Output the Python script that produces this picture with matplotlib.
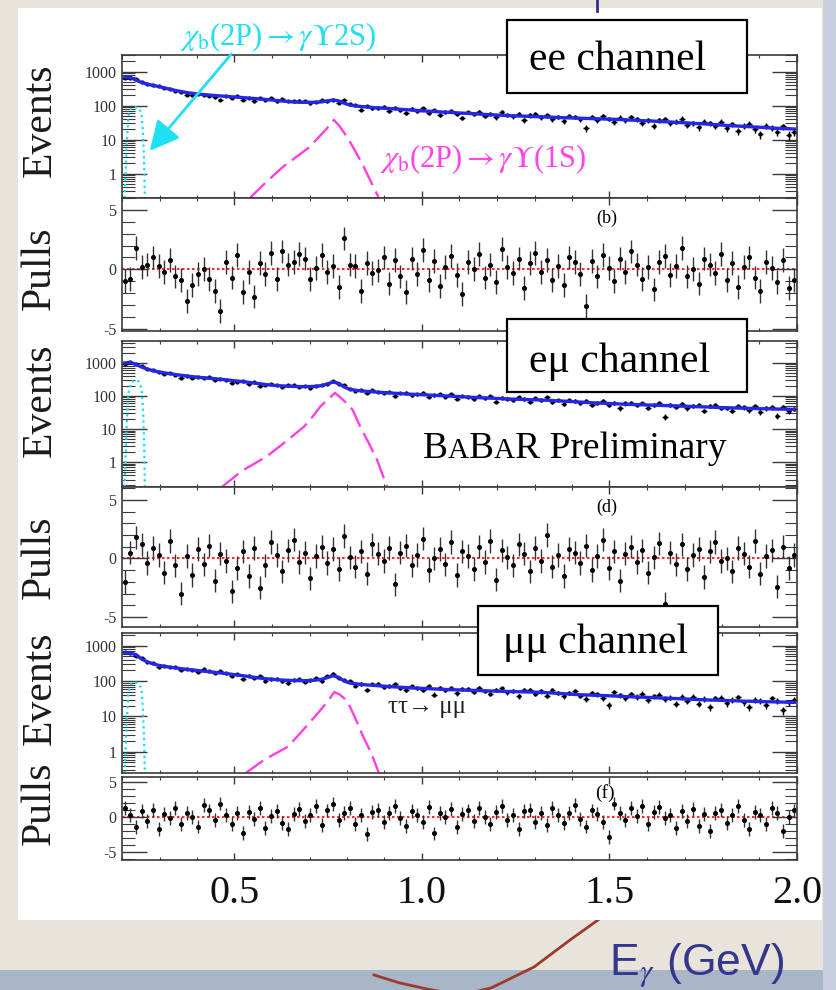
import numpy as np
import matplotlib
matplotlib.use("Agg")
import matplotlib.pyplot as plt
from matplotlib.patches import Rectangle, FancyArrowPatch
from matplotlib.lines import Line2D
from matplotlib.ticker import FixedLocator, FixedFormatter, LogLocator, MultipleLocator, NullFormatter

plt.rcParams['font.family'] = ['Liberation Serif', 'DejaVu Serif']
plt.rcParams['mathtext.fontset'] = 'stix'
plt.rcParams['axes.unicode_minus'] = False

W, H = 837, 990

# ---------------- data ----------------
# fitted background+signal per bin, 120 bins from 0.2 to 2.0 GeV
ee_fit = [690, 680, 560, 480, 430, 395, 365, 335, 305, 280,
          260, 243, 230, 220, 212, 205, 199, 193, 188, 182,
          177, 172, 167, 162, 157, 152, 147, 142, 137, 132,
          128, 126, 125, 125, 126, 129, 137, 147, 138, 118,
          104, 98, 94, 91, 88, 86, 84, 82, 80, 78,
          76, 74, 72, 70, 68.5, 67, 65.5, 64, 63, 61.5,
          60, 59, 58, 56.5, 55, 54, 53, 52, 51, 50,
          49.5, 49, 48, 47.5, 47, 46, 45.5, 45, 44, 43.5,
          43, 42.5, 42, 41.5, 41, 40.5, 40, 39.5, 39, 38,
          37.5, 37, 36, 35.5, 35, 34, 33.5, 33, 32, 31.5,
          31, 30, 29.5, 29, 28, 27.5, 27, 26, 25.5, 25,
          24.5, 24, 23.5, 23, 22.5, 22, 21.5, 21, 21, 20.5]

emu_fit = [980, 1030, 880, 740, 640, 575, 530, 495, 465, 440,
           418, 398, 380, 365, 352, 340, 330, 318, 305, 292,
           280, 268, 255, 243, 232, 220, 212, 205, 200, 196,
           193, 191, 190, 191, 195, 205, 228, 262, 240, 185,
           158, 148, 142, 137, 133, 129, 126, 123, 120, 117,
           114, 112, 110, 108, 106, 104, 102, 100, 98, 96,
           94, 92, 90, 88.5, 87, 85.5, 84, 82.5, 81, 80,
           79, 78, 77, 76, 75, 74, 72.5, 71, 69.5, 68,
           66.5, 65, 63.5, 62, 61, 60, 59, 58, 57, 56,
           55, 54.5, 54, 53, 52.5, 52, 51, 50.5, 50, 49,
           48.5, 48, 47, 46.5, 46, 45, 44.5, 44, 43.5, 43,
           42.5, 42, 41.5, 41, 41, 40.5, 40, 40, 39.5, 39]

mumu_fit = [640, 620, 560, 420, 350, 310, 280, 262, 248, 236,
            225, 215, 207, 199, 191, 184, 177, 170, 163, 156,
            149, 142, 135, 128, 122, 117, 113, 110, 107, 105,
            104, 103, 103, 104, 107, 113, 125, 142, 128, 100,
            88, 84, 81, 78, 76, 74, 72, 70, 68.5, 67,
            65.5, 64, 63, 62, 61, 60, 59, 58, 57, 56.5,
            56, 55, 54.5, 54, 53, 52.5, 52, 51.5, 51, 50.5,
            50, 49.5, 49, 48.5, 48, 47, 46, 45, 44, 43,
            42, 41, 40.5, 40, 39.5, 39, 38.5, 38, 37, 36.5,
            36, 35.5, 35, 34.5, 34, 33.5, 33, 32.5, 32, 31.5,
            31, 30.5, 30, 29.5, 29, 29, 28.5, 28, 28, 27.5,
            27, 27, 26.5, 26.5, 26, 26, 25.5, 25.5, 25, 25]

# pulls per bin
ee_pulls = [-1.0, -0.8, 1.8, 0.2, 0.4, 1.0, 0.3, -0.2, 0.8, -0.6,
            -0.9, -2.7, -1.3, -0.4, 0.0, -0.8, -1.8, -3.5, 0.6, -0.7,
            1.2, -1.9, -0.2, -2.3, 0.5, -0.4, 1.4, -0.8, 1.5, 0.4,
            0.6, 1.3, 0.9, -0.8, 0.1, 1.2, -0.2, 0.3, -1.5, 2.6,
            0.4, 0.3, -1.8, 0.5, -0.3, -0.1, 1.0, -1.2, 0.8, -0.6,
            -1.9, 0.9, -0.4, 1.6, -0.9, 0.7, -1.4, 0.2, 1.1, -0.5,
            -2.1, 0.6, 0.0, 1.3, -0.7, 0.4, -1.1, 1.7, 0.2, -0.3,
            0.9, -1.6, 0.5, 1.4, -0.2, 0.8, -0.9, 0.3, -1.3, 1.0,
            0.6, -0.4, -3.1, 0.7, -0.6, 1.2, 0.1, -1.0, 0.9, -0.2,
            1.5, 0.4, -0.8, 0.2, -1.7, 0.6, 1.1, -0.5, 0.3, 1.8,
            -0.6, 0.0, -1.2, 0.9, 0.4, -0.3, 1.3, -0.9, 0.5, -1.5,
            0.2, 1.0, -0.7, -1.8, 0.6, 0.1, -1.1, 0.8, -1.6, -0.9]

emu_pulls = [-2.0, 0.5, 1.8, 1.2, -0.4, 0.9, 0.3, -1.2, 1.5, -0.6,
             -3.0, 0.2, -1.4, 0.8, -0.5, 1.1, -1.9, 0.4, -0.2, -2.8,
             -0.8, 0.6, -1.5, 0.9, -2.5, -0.6, 1.4, 0.3, -1.1, 0.7,
             1.6, -0.3, 0.5, -1.7, 0.2, 1.0, -0.4, 0.8, -0.9, 1.9,
             0.1, -0.7, 0.6, -1.3, 1.2, 0.4, -0.2, 0.9, -2.2, 0.5,
             1.1, -0.6, 0.3, 1.7, -1.0, 0.0, 0.8, -0.5, 1.4, -1.4,
             0.6, 0.2, -0.9, 1.0, -0.3, 1.5, -1.8, 0.7, 0.1, -0.6,
             1.2, 0.4, -1.1, 0.9, -0.2, 2.0, -0.7, 0.3, -1.5, 0.8,
             0.5, -0.4, 1.1, -1.0, 0.2, 1.6, -0.8, 0.6, -1.9, 0.4,
             1.0, -0.3, 0.7, -1.2, 0.1, 1.3, -3.9, 0.5, -0.5, 1.2,
             -0.9, 0.3, 0.8, -1.6, 0.6, 1.4, -0.2, 0.0, -1.1, 0.9,
             0.4, -0.7, 1.5, -1.3, 0.2, 0.7, -2.4, 1.0, -0.8, 0.3]

mumu_pulls = [1.2, 0.3, -1.5, 0.8, -0.6, 1.0, -1.8, 0.4, -0.2, 1.3,
              -1.0, 0.6, 0.0, -1.4, 1.7, 0.9, -0.5, 1.9, 0.2, -1.1,
              0.5, -2.3, 0.7, -0.3, 1.2, -1.6, 0.1, 0.8, -0.9, -1.7,
              0.4, 1.1, -0.6, 0.3, 1.5, -1.2, 0.9, 1.8, -0.4, 0.6,
              1.3, -1.0, 0.2, -2.5, 0.7, 1.0, -0.7, 0.5, 1.6, -0.2,
              -1.3, 0.8, 0.3, -0.8, 1.4, -2.4, 0.6, -0.1, 1.1, -1.5,
              0.4, 0.9, -0.6, 1.2, 0.0, -1.1, 0.7, 1.5, -0.4, 0.3,
              -1.8, 0.8, 1.0, -0.7, 0.5, -1.2, 1.3, 0.2, -0.9, 0.6,
              1.7, -0.3, -1.4, 0.9, 0.4, -0.8, -2.9, 1.9, 0.5, -0.5,
              1.2, 0.1, 1.6, -1.0, 0.7, 1.4, -0.2, 0.3, -1.6, 0.8,
              -0.6, 1.1, -1.3, 0.4, -2.0, 0.6, 1.0, -0.9, 0.2, 1.5,
              -0.4, -1.7, 0.7, 0.3, -1.1, 1.3, 0.5, -2.1, 0.0, 0.9]

# chi_b(2P) -> gamma Upsilon(1S) signal shapes (magenta)
ee_sig_x = [0.541, 0.58, 0.63, 0.67, 0.70, 0.73, 0.746, 0.765, 0.78, 0.80, 0.82, 0.84, 0.86, 0.885]
ee_sig_y = [0.19, 0.5, 1.6, 3.4, 6, 13.6, 21, 38, 25, 12, 5, 2, 0.7, 0.19]
emu_sig_x = [0.466, 0.52, 0.586, 0.64, 0.686, 0.71, 0.729, 0.75, 0.768, 0.79, 0.815, 0.835, 0.857, 0.88, 0.907]
emu_sig_y = [0.18, 0.55, 1.5, 4.5, 12, 25, 48, 80, 123, 75, 38, 12, 4, 1.2, 0.18]
mumu_sig_x = [0.53, 0.58, 0.643, 0.69, 0.729, 0.75, 0.766, 0.78, 0.80, 0.82, 0.843, 0.865, 0.885]
mumu_sig_y = [0.25, 0.6, 1.4, 5, 15, 28, 49, 42, 28, 10, 2.7, 0.9, 0.25]

# chi_b(2P) -> gamma Upsilon(2S) signal shapes (cyan)
cy_x = [0.207, 0.212, 0.217, 0.225, 0.235, 0.245, 0.252, 0.256, 0.259, 0.261]
ee_cy_y = [0.19, 5, 50, 85, 90, 85, 60, 15, 2, 0.19]
emu_cy_y = [0.18, 10, 120, 260, 300, 270, 170, 40, 4, 0.18]
mumu_cy_y = [0.25, 5, 50, 85, 93, 85, 60, 15, 2, 0.25]

ev_ticks = [1, 10, 100, 1000]
ev_ticklabels = ['1', '10', '100', '1000']
pull_ticks = [-5, 0, 5]
pull_ticklabels = ['-5', '0', '5']
x_ticks = [0.5, 1.0, 1.5, 2.0]
x_ticklabels = ['0.5', '1.0', '1.5', '2.0']


def fx(px):
    return px / W


def fy(py):
    return 1 - py / H


fig = plt.figure(figsize=(W / 100, H / 100), dpi=100)
fig.patch.set_facecolor('#e9e4db')

# slide background bits
fig.add_artist(Rectangle((0, 0), 1, (990 - 970) / H, transform=fig.transFigure,
                         fc='#a9b6c8', ec='none', zorder=-6))
fig.add_artist(Rectangle((fx(823), 0), (837 - 823) / W, 1, transform=fig.transFigure,
                         fc='#c6d0de', ec='none', zorder=-6))
fig.add_artist(Line2D([fx(374), fx(400), fx(427), fx(460), fx(491), fx(534), fx(570), fx(598)],
                      [fy(975), fy(983), fy(989), fy(995), fy(988), fy(967), fy(940), fy(920)],
                      transform=fig.transFigure, color='#9c3a2c', lw=2, zorder=-5))
fig.add_artist(Rectangle((fx(18), fy(920)), (822 - 18) / W, (920 - 8) / H, transform=fig.transFigure,
                         fc='white', ec='none', zorder=-4))
fig.add_artist(Line2D([fx(597), fx(597)], [fy(0), fy(11)], transform=fig.transFigure,
                      color='#2e3192', lw=2, zorder=-3))


def make_axes(top, bot):
    ax = fig.add_axes([fx(122), fy(bot), (797 - 122) / W, (bot - top) / H])
    ax.set_xlim(0.2, 2.0)
    for s in ax.spines.values():
        s.set_linewidth(1.2)
        s.set_color('#3a3a3a')
    ax.tick_params(which='both', direction='in', top=True, right=True,
                   colors='#3a3a3a', labelcolor='#333333', labelsize=11.5,
                   labelbottom=False)
    ax.tick_params(axis='x', which='major', length=5, width=1)
    ax.tick_params(axis='x', which='minor', length=2.5, width=0.8)
    ax.tick_params(axis='y', which='major', length=18, width=1, pad=4)
    ax.tick_params(axis='y', which='minor', length=9, width=0.8)
    ax.xaxis.set_major_locator(FixedLocator(x_ticks))
    ax.xaxis.set_major_formatter(FixedFormatter(x_ticklabels))
    ax.xaxis.set_minor_locator(MultipleLocator(0.1))
    return ax


def bins(n):
    edges = np.linspace(0.2, 2.0, n + 1)
    return 0.5 * (edges[:-1] + edges[1:]), 0.5 * (edges[1] - edges[0])


def events_panel(top, bot, fit, pulls, sx, sy, cy, ylim):
    ax = make_axes(top, bot)
    n = min(len(fit), len(pulls))
    x, hw = bins(n)
    fit = np.array(fit[:n], dtype=float)
    data = fit + np.array(pulls[:n]) * np.sqrt(fit)
    ax.errorbar(x, data, yerr=np.sqrt(data), xerr=hw, fmt='o', ms=2.0, color='black',
                elinewidth=1.0, capsize=0, zorder=2)
    ax.plot(x, fit, color='#2626e6', lw=2.4, zorder=3)
    ax.plot(sx, sy, color='#ff3fe2', lw=1.7, dashes=(9, 3), zorder=2.5)
    ax.plot(cy_x, cy, color='#14dcef', lw=1.6, ls=':', zorder=2.5)
    ax.set_yscale('log')
    ax.set_ylim(*ylim)
    ax.yaxis.set_major_locator(FixedLocator(ev_ticks))
    ax.yaxis.set_major_formatter(FixedFormatter(ev_ticklabels))
    ax.yaxis.set_minor_locator(LogLocator(base=10, subs=np.arange(2, 10) * 1.0, numticks=20))
    ax.yaxis.set_minor_formatter(NullFormatter())
    return ax


def pulls_panel(top, bot, pulls, ylim):
    ax = make_axes(top, bot)
    x, hw = bins(len(pulls))
    ax.axhline(0, color='#ff2a2a', lw=1.5, ls=(0, (1.2, 1.2)), zorder=1)
    ax.errorbar(x, pulls, yerr=1.0, fmt='o', ms=2.6, color='black', ecolor='#333333',
                elinewidth=1.0, capsize=0, zorder=2)
    ax.set_ylim(*ylim)
    ax.yaxis.set_major_locator(FixedLocator(pull_ticks))
    ax.yaxis.set_major_formatter(FixedFormatter(pull_ticklabels))
    ax.yaxis.set_minor_locator(MultipleLocator(1))
    return ax


ax_ee = events_panel(55, 198, ee_fit, ee_pulls, ee_sig_x, ee_sig_y, ee_cy_y, (0.19, 3100))
ax_b = pulls_panel(198, 331, ee_pulls, (-5.2, 6.0))
ax_emu = events_panel(341, 487, emu_fit, emu_pulls, emu_sig_x, emu_sig_y, emu_cy_y, (0.18, 4500))
ax_d = pulls_panel(487, 627, emu_pulls, (-5.85, 6.1))
ax_mumu = events_panel(633, 773, mumu_fit, mumu_pulls, mumu_sig_x, mumu_sig_y, mumu_cy_y, (0.25, 2300))
ax_f = pulls_panel(777, 860, mumu_pulls, (-6.2, 5.7))
ax_f.tick_params(axis='x', which='major', labelbottom=True, labelsize=29, pad=11,
                 labelcolor='#111111')

# axis titles
for yc in (120, 400, 688):
    fig.text(fx(40), fy(yc), "Events", rotation=90, fontsize=30, ha='center', va='center',
             color='#1a1a1a')
for yc in (268, 557, 803):
    fig.text(fx(40), fy(yc), "Pulls", rotation=90, fontsize=30, ha='center', va='center',
             color='#1a1a1a')

# channel boxes
for (x0, y0, x1, y1, label, tx, tb) in [(507, 20, 747, 93, "ee channel", 618, 70),
                                         (507, 319, 747, 392, "e\u03bc channel", 620, 372),
                                         (478, 606, 718, 675, "\u03bc\u03bc channel", 596, 653)]:
    fig.add_artist(Rectangle((fx(x0), fy(y1)), (x1 - x0) / W, (y1 - y0) / H,
                             transform=fig.transFigure, fc='white', ec='black', lw=1.6, zorder=5))
    fig.text(fx(tx), fy(tb), label, fontsize=30, ha='center', va='baseline', zorder=6)

# panel letters
fig.text(fx(607), fy(218), "(b)", fontsize=13, ha='center', va='center')
fig.text(fx(607), fy(507), "(d)", fontsize=13, ha='center', va='center')
fig.text(fx(605), fy(793), "(f)", fontsize=14, ha='center', va='center')

# BABAR Preliminary (small caps A)
t = ax_emu.text(fx(423), fy(458), "B", fontsize=27, va='baseline', transform=fig.transFigure)
for piece, size, dy in [("A", 21, 1.3), ("B", 27, -1.3), ("A", 21, 1.3), ("R Preliminary", 27, -1.3)]:
    t = ax_emu.annotate(piece, xy=(1, 0), xycoords=t, xytext=(0, dy), textcoords='offset points',
                        fontsize=size, va='bottom', ha='left')

fig.text(fx(388), fy(713), "\u03c4\u03c4\u2192 \u03bc\u03bc", fontsize=18, va='baseline',
         color='#222222')

# signal labels and arrow
fig.text(fx(180), fy(45), r"$\chi_{\rm b}$(2P)$\rightarrow\gamma\Upsilon$2S)", fontsize=22,
         color='#1ee0f2', va='baseline')
fig.text(fx(380), fy(167), r"$\chi_{\rm b}$(2P)$\rightarrow\gamma\Upsilon$(1S)", fontsize=22,
         color='#ff45e6', va='baseline')
fig.add_artist(FancyArrowPatch(posA=(fx(233), fy(52)), posB=(fx(148), fy(153)),
                               transform=fig.transFigure,
                               arrowstyle='-|>,head_length=0.9,head_width=0.45',
                               mutation_scale=20, color='#1ee0f2', lw=2, zorder=7))

fig.text(fx(609), fy(975), r"E$_{\gamma}$ (GeV)", family='Liberation Sans', fontsize=32,
         color='#34378c', va='baseline')

fig.savefig("out.png", dpi=100, facecolor=fig.get_facecolor())
